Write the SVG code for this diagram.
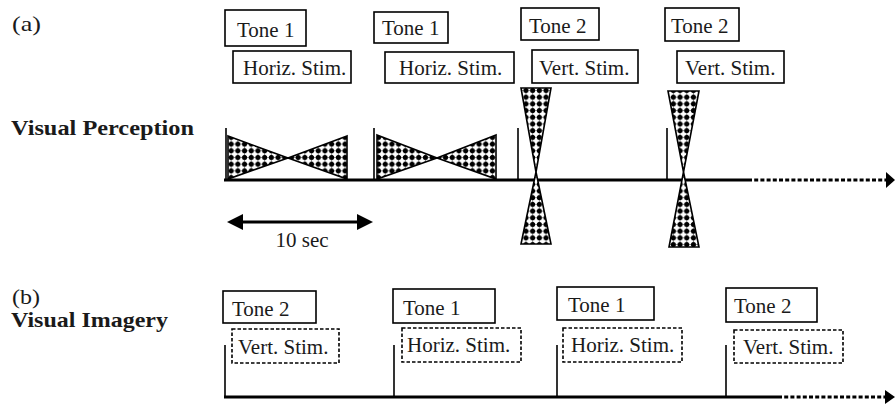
<svg xmlns="http://www.w3.org/2000/svg" width="895" height="405" viewBox="0 0 895 405">
<style>
text{font-family:"Liberation Serif","Times New Roman",serif;fill:#1a1a1a}
.t{font-size:21px}
.lbl{font-size:22px;font-weight:bold}
.sec{font-size:22px}
.box{fill:#fff;stroke:#000;stroke-width:1.6}
.dbox{fill:#fff;stroke:#000;stroke-width:1.6;stroke-dasharray:3.5 2}
.tick{stroke:#000;stroke-width:1.6;fill:none}
.axis{stroke:#000;stroke-width:3.2;fill:none}
.dots{stroke:#000;stroke-width:3.2;fill:none;stroke-dasharray:4 2.2}
.stim{fill:url(#chk);stroke:#000;stroke-width:1.6;stroke-linejoin:miter}
</style>
<defs>
<pattern id="chk" patternUnits="userSpaceOnUse" width="6.7" height="6.7">
<rect width="6.7" height="6.7" fill="#fff"/>
<circle cx="3.35" cy="3.35" r="2.5" fill="#000"/>
<polygon points="3.35,0.3 6.4,3.35 3.35,6.4 0.3,3.35" fill="#000"/>
</pattern>
</defs>
<rect width="895" height="405" fill="#fff"/>

<g id="labels">
<text class="sec" x="12" y="31" textLength="29" lengthAdjust="spacingAndGlyphs">(a)</text>
<text class="lbl" x="11" y="135" textLength="183" lengthAdjust="spacingAndGlyphs">Visual Perception</text>
<text class="sec" x="12" y="304" font-size="21" textLength="28" lengthAdjust="spacingAndGlyphs">(b)</text>
<text class="lbl" x="11" y="327" textLength="157" lengthAdjust="spacingAndGlyphs">Visual Imagery</text>
</g>

<g id="connectors">
<line class="axis" x1="224" y1="180" x2="748" y2="180"/>
<line class="dots" x1="748" y1="180" x2="887" y2="180"/>
<polygon points="886,172 895,180 886,188" fill="#000"/>
<line class="tick" x1="226" y1="128" x2="226" y2="180"/>
<line class="tick" x1="374" y1="128" x2="374" y2="180"/>
<line class="tick" x1="518" y1="128" x2="518" y2="180"/>
<line class="tick" x1="667" y1="128" x2="667" y2="180"/>

<line class="axis" x1="224" y1="397" x2="778" y2="397" stroke-width="4"/>
<line class="dots" x1="778" y1="397" x2="886" y2="397" stroke-width="4"/>
<polygon points="885,390 895,397 885,404" fill="#000"/>
<line class="tick" x1="225" y1="345" x2="225" y2="397"/>
<line class="tick" x1="394" y1="345" x2="394" y2="397"/>
<line class="tick" x1="557" y1="345" x2="557" y2="397"/>
<line class="tick" x1="726" y1="345" x2="726" y2="397"/>

<g id="scale">
<line x1="238" y1="222" x2="362" y2="222" stroke="#000" stroke-width="3.2"/>
<polygon points="227,222 243,214 243,230" fill="#000"/>
<polygon points="373,222 357,214 357,230" fill="#000"/>
<text class="t" x="302" y="247" text-anchor="middle">10 sec</text>
</g>
</g>

<g id="stim-h1">
<polygon class="stim" points="228,136 288,158 228,179"/>
<polygon class="stim" points="347,136 288,158 347,179"/>
</g>
<g id="stim-h2">
<polygon class="stim" points="377,135 437,158 377,179"/>
<polygon class="stim" points="496,135 437,158 496,179"/>
</g>
<g id="stim-v1">
<polygon class="stim" points="521,88 551,88 536,172"/>
<polygon class="stim" points="536,172 551,244 521,244"/>
</g>
<g id="stim-v2">
<polygon class="stim" points="668,91 699,91 683.5,172"/>
<polygon class="stim" points="683.5,172 699,247 669,247"/>
</g>

<g id="a-tone1-1"><rect class="box" x="225" y="10" width="81" height="36"/><text class="t" x="237" y="37">Tone 1</text></g>
<g id="a-horiz-1"><rect class="box" x="233" y="51" width="118" height="32"/><text class="t" x="243" y="75">Horiz. Stim.</text></g>
<g id="a-tone1-2"><rect class="box" x="374" y="12" width="74" height="31"/><text class="t" x="382" y="35">Tone 1</text></g>
<g id="a-horiz-2"><rect class="box" x="385" y="52" width="129" height="31"/><text class="t" x="399" y="75">Horiz. Stim.</text></g>
<g id="a-tone2-1"><rect class="box" x="521" y="8" width="78" height="32"/><text class="t" x="529" y="33">Tone 2</text></g>
<g id="a-vert-1"><rect class="box" x="532" y="50" width="106" height="33"/><text class="t" x="539" y="75">Vert. Stim.</text></g>
<g id="a-tone2-2"><rect class="box" x="665" y="8" width="74" height="33"/><text class="t" x="671" y="33">Tone 2</text></g>
<g id="a-vert-2"><rect class="box" x="677" y="51" width="107" height="32"/><text class="t" x="685" y="75">Vert. Stim.</text></g>

<g id="b-tone2-1"><rect class="box" x="223" y="291" width="93" height="32"/><text class="t" x="232" y="316">Tone 2</text></g>
<g id="b-vert-1"><rect class="dbox" x="232" y="329" width="107" height="34"/><text class="t" x="238" y="354">Vert. Stim.</text></g>
<g id="b-tone1-1"><rect class="box" x="393" y="289" width="102" height="34"/><text class="t" x="403" y="315">Tone 1</text></g>
<g id="b-horiz-1"><rect class="dbox" x="402" y="328" width="119" height="34"/><text class="t" x="407" y="352">Horiz. Stim.</text></g>
<g id="b-tone1-2"><rect class="box" x="557" y="287" width="97" height="33"/><text class="t" x="568" y="312">Tone 1</text></g>
<g id="b-horiz-2"><rect class="dbox" x="563" y="328" width="119" height="34"/><text class="t" x="571" y="352">Horiz. Stim.</text></g>
<g id="b-tone2-2"><rect class="box" x="726" y="288" width="91" height="34"/><text class="t" x="734" y="313">Tone 2</text></g>
<g id="b-vert-2"><rect class="dbox" x="734" y="330" width="109" height="33"/><text class="t" x="743" y="354">Vert. Stim.</text></g>
</svg>
